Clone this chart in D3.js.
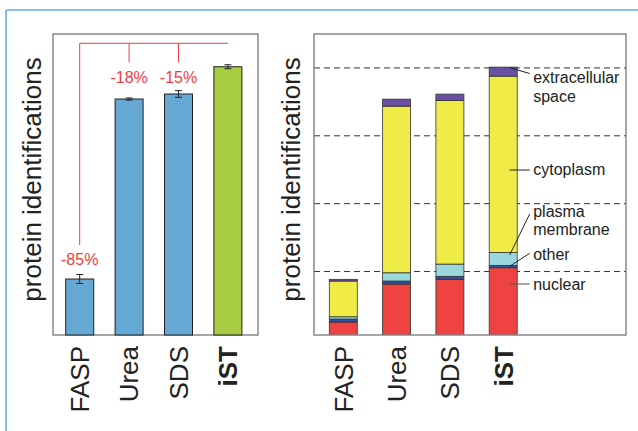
<!DOCTYPE html>
<html><head><meta charset="utf-8">
<script src="https://cdn.jsdelivr.net/npm/d3@7"></script>
<style>body{margin:0;background:#fff}svg{display:block}text{font-family:"Liberation Sans",Arial,sans-serif}</style>
</head><body><svg id="c" width="638" height="431"></svg>
<script>
// ---- data ----
const methods = ["FASP", "Urea", "SDS", "iST"];
const totals = [890, 3542, 3616, 4018];
const errors = [66, 15, 49, 29];
const dropLabels = ["-85%", "-18%", "-15%"];
const locations = ["nuclear", "other", "plasma membrane", "cytoplasm", "extracellular space"];
const nuclear = [256, 816, 885, 1056];
const other = [44, 44, 44, 35];
const plasmaMembrane = [34, 122, 181, 191];
const cytoplasm = [526, 2455, 2411, 2597];
const extracellular = [25, 103, 93, 133];
const gridValues = [1000, 2000, 3000, 4000];
const yDomain = [65, 4500];
const yLabel = "protein identifications";

// ---- drawing ----
const svg = d3.select("#c");
const ink = "#222";
const red = "#f03c3c";

// figure frame
svg.append("line").attr("x1", 6).attr("x2", 6).attr("y1", 10).attr("y2", 431).attr("stroke", "#62afe0").attr("stroke-width", 1.6);
svg.append("line").attr("x1", 6).attr("x2", 638).attr("y1", 10).attr("y2", 10).attr("stroke", "#62afe0").attr("stroke-width", 1.6);

// ===== left panel =====
const L = {x0: 53, x1: 258, y0: 34, y1: 335};
const yL = d3.scaleLinear().domain(yDomain).range([L.y1, L.y0]);
const xL = d3.scaleBand().domain(methods).range([55, 252.6]).paddingInner(0.433).paddingOuter(0.2165);
const cxL = m => xL(m) + xL.bandwidth() / 2;

svg.append("rect").attr("x", L.x0).attr("y", L.y0).attr("width", L.x1 - L.x0).attr("height", L.y1 - L.y0)
  .attr("fill", "none").attr("stroke", "#808080").attr("stroke-width", 1.4);

const leftData = methods.map((m, i) => ({m, v: totals[i], e: errors[i]}));
svg.append("g").selectAll("rect").data(leftData).join("rect")
  .attr("x", d => xL(d.m)).attr("width", xL.bandwidth())
  .attr("y", d => yL(d.v)).attr("height", d => yL(yDomain[0]) - yL(d.v))
  .attr("fill", d => d.m === "iST" ? "#a8cd45" : "#66a8d4")
  .attr("stroke", ink).attr("stroke-width", 1);

const eb = svg.append("g").attr("stroke", ink).attr("stroke-width", 1);
leftData.forEach(d => {
  const cx = cxL(d.m);
  eb.append("line").attr("x1", cx).attr("x2", cx).attr("y1", yL(d.v + d.e)).attr("y2", yL(d.v - d.e));
  eb.append("line").attr("x1", cx - 3.5).attr("x2", cx + 3.5).attr("y1", yL(d.v + d.e)).attr("y2", yL(d.v + d.e));
  eb.append("line").attr("x1", cx - 3.5).attr("x2", cx + 3.5).attr("y1", yL(d.v - d.e)).attr("y2", yL(d.v - d.e));
});

// comparison bracket
const brY = 43.3;
const br = svg.append("g").attr("stroke", red).attr("stroke-width", 1).attr("fill", "none");
br.append("line").attr("x1", cxL("FASP")).attr("x2", cxL("iST")).attr("y1", brY).attr("y2", brY);
const faspTop = yL(totals[0] + errors[0]);
br.append("line").attr("x1", cxL("FASP")).attr("x2", cxL("FASP")).attr("y1", brY).attr("y2", faspTop - 29.5);
["Urea", "SDS"].forEach(m => br.append("line").attr("x1", cxL(m)).attr("x2", cxL(m)).attr("y1", brY).attr("y2", brY + 19));
const dropPos = [faspTop - 9.5, brY + 39.2, brY + 39.2];
methods.slice(0, 3).forEach((m, i) => {
  svg.append("text").attr("x", cxL(m)).attr("y", dropPos[i]).attr("text-anchor", "middle")
    .attr("font-size", 16).attr("fill", red).text(dropLabels[i]);
});

// y label
function yTitle(x) {
  svg.append("text").attr("transform", `translate(${x},179.5) rotate(-90)`).attr("text-anchor", "middle")
    .attr("font-size", 26).attr("fill", ink).text(yLabel);
}
yTitle(41);

// x labels
function xLabels(scale) {
  methods.forEach(m => {
    svg.append("text").attr("transform", `translate(${scale(m) + scale.bandwidth() / 2},346) rotate(-90)`)
      .attr("text-anchor", "end").attr("dy", "0.36em").attr("font-size", 26)
      .attr("font-weight", m === "iST" ? "bold" : "normal").attr("fill", ink).text(m);
  });
}
xLabels(xL);

// ===== right panel =====
const R = {x0: 314, x1: 626, y0: 34, y1: 335};
const yR = d3.scaleLinear().domain(yDomain).range([R.y1, R.y0]);
const xR = d3.scaleBand().domain(methods).range([316.65, 529.85]).paddingInner(0.475).paddingOuter(0.2375);

svg.append("defs").append("clipPath").attr("id", "clipR").append("rect")
  .attr("x", R.x0).attr("y", R.y0).attr("width", R.x1 - R.x0).attr("height", R.y1 - R.y0);

svg.append("g").selectAll("line").data(gridValues).join("line")
  .attr("x1", R.x0).attr("x2", R.x1).attr("y1", d => yR(d)).attr("y2", d => yR(d))
  .attr("stroke", "#333").attr("stroke-width", 1).attr("stroke-dasharray", "6,4");

const seriesArrays = [nuclear, other, plasmaMembrane, cytoplasm, extracellular];
const table = methods.map((m, i) => {
  const row = {method: m};
  locations.forEach((k, j) => row[k] = seriesArrays[j][i]);
  return row;
});
const stacked = d3.stack().keys(locations)(table);
const colors = d3.scaleOrdinal().domain(locations).range(["#ee4340", "#2e4f9e", "#9ad7db", "#efec47", "#6b4fa2"]);

svg.append("g").attr("clip-path", "url(#clipR)").selectAll("g").data(stacked).join("g")
  .attr("fill", d => colors(d.key))
  .selectAll("rect").data(d => d).join("rect")
  .attr("x", d => xR(d.data.method)).attr("width", xR.bandwidth())
  .attr("y", d => yR(d[1])).attr("height", d => yR(d[0]) - yR(d[1]))
  .attr("stroke", "#333").attr("stroke-width", 0.8);

svg.append("rect").attr("x", R.x0).attr("y", R.y0).attr("width", R.x1 - R.x0).attr("height", R.y1 - R.y0)
  .attr("fill", "none").attr("stroke", "#808080").attr("stroke-width", 1.4);

yTitle(299.5);
xLabels(xR);

// legend annotations
const bx = xR("iST"), bw = xR.bandwidth();
const annotations = [
  {lines: ["extracellular", "space"], ty: 83, y0: 67.7, y1: 73.5, c: ink},
  {lines: ["cytoplasm"], ty: 174.5, y0: 170, y1: 170, c: ink},
  {lines: ["plasma", "membrane"], ty: 216.5, y0: 255, y1: 214, c: ink},
  {lines: ["other"], ty: 260, y0: 266.3, y1: 253.3, c: ink},
  {lines: ["nuclear"], ty: 290, y0: 284, y1: 284, c: "#555"}
];
annotations.forEach(a => {
  svg.append("line").attr("x1", bx + bw * 0.73).attr("x2", bx + bw + 12.5).attr("y1", a.y0).attr("y2", a.y1)
    .attr("stroke", a.c).attr("stroke-width", 1);
  const t = svg.append("text").attr("x", bx + bw + 16).attr("y", a.ty).attr("font-size", 16).attr("fill", ink);
  a.lines.forEach((s, i) => t.append("tspan").attr("x", bx + bw + 16).attr("dy", i ? 18.5 : 0).text(s));
});
</script></body></html>
